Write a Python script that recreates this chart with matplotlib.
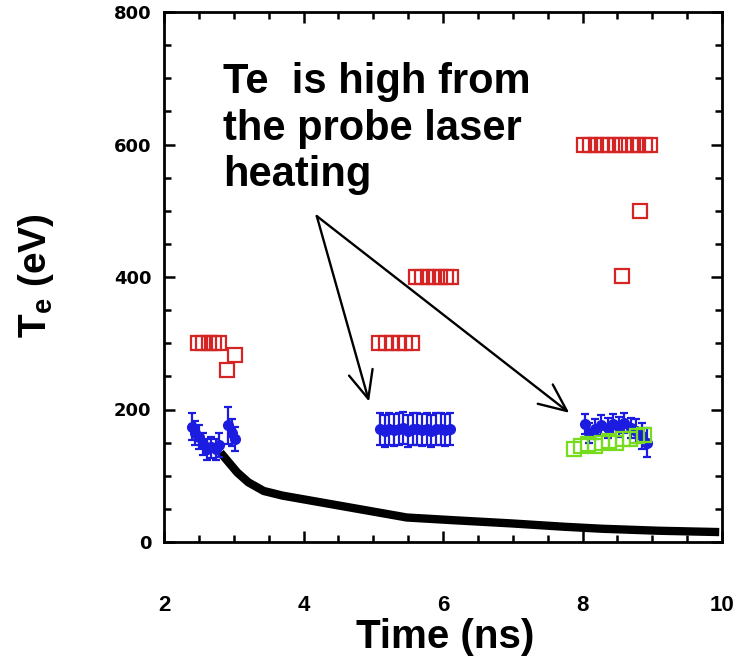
import numpy as np
import matplotlib
matplotlib.use("Agg")
import matplotlib.pyplot as plt
from matplotlib.ticker import MultipleLocator

plt.rcParams['font.family'] = ['Liberation Sans', 'DejaVu Sans']
plt.rcParams['mathtext.fontset'] = 'custom'
plt.rcParams['mathtext.rm'] = 'Liberation Sans:bold'
plt.rcParams['mathtext.bf'] = 'Liberation Sans:bold'

#red open squares (Te from probe heating)
red_t = [2.49, 2.56, 2.64, 2.72, 2.79, 2.90, 3.02,
         5.08, 5.18, 5.27, 5.37, 5.46, 5.56,
         5.62, 5.70, 5.79, 5.87, 5.96, 6.04, 6.12,
         8.02, 8.11, 8.20, 8.28, 8.37, 8.46, 8.54, 8.63, 8.72, 8.80, 8.89, 8.97,
         8.57, 8.83]
red_te = [300, 300, 300, 300, 300, 260, 282,
          300, 300, 300, 300, 300, 300,
          400, 400, 400, 400, 400, 400, 400,
          600, 600, 600, 600, 600, 600, 600, 600, 600, 600, 600, 600,
          402, 500]

#blue points with error bars
blue_t = [2.40, 2.45, 2.50, 2.56, 2.62, 2.68, 2.74, 2.79, 2.92, 2.97, 3.02,
          5.10, 5.17, 5.23, 5.30, 5.37, 5.43, 5.50, 5.57, 5.63, 5.70, 5.77, 5.83, 5.90, 5.97, 6.03, 6.10,
          8.03, 8.10, 8.18, 8.27, 8.36, 8.44, 8.52, 8.60, 8.69, 8.77, 8.85, 8.92]
blue_te = [174, 165, 158, 148, 140, 143, 140, 146, 176, 165, 155,
           170, 168, 171, 169, 170, 172, 168, 170, 171, 169, 170, 168, 171, 170, 169, 170,
           178, 165, 170, 176, 172, 178, 174, 180, 172, 168, 160, 150]
blue_err = [20, 18, 18, 16, 16, 16, 16, 18, 28, 20, 18,
            24, 24, 24, 24, 24, 24, 24, 24, 24, 24, 24, 24, 24, 24, 24, 24,
            15, 15, 15, 15, 15, 15, 15, 15, 15, 18, 20, 22]

#green open squares
green_t = [7.88, 7.98, 8.08, 8.18, 8.28, 8.38, 8.48, 8.58, 8.68, 8.78, 8.88]
green_te = [140, 145, 148, 145, 150, 152, 150, 155, 156, 160, 162]

#black decay curve
curve_t = [2.81, 3.05, 3.21, 3.43, 3.70, 3.97, 4.51, 5.05, 5.48, 6.13, 6.99, 7.74, 8.28, 9.09, 9.96]
curve_te = [135, 105, 90, 77, 70, 65, 55, 45, 37, 33, 28, 23, 20, 17, 15]

fig = plt.figure(figsize=(7.43, 6.63), dpi=100)
ax = fig.add_axes([164/743, 121/663, 558/743, 530/663])

ax.plot(curve_t, curve_te, color='black', lw=6, solid_capstyle='butt', zorder=2)
ax.errorbar(blue_t, blue_te, yerr=blue_err, fmt='o', color='#1c1ce0', ms=7,
            elinewidth=1.6, capsize=3, capthick=1.6, zorder=3)
ax.plot(green_t, green_te, 's', mfc='none', mec='#78dc1e', ms=10, mew=1.6, zorder=4)
ax.plot(red_t, red_te, 's', mfc='none', mec='#d42424', ms=9.5, mew=1.6, zorder=4)

ax.text(2.85, 725, "Te  is high from\nthe probe laser\nheating", fontsize=30,
        fontweight='bold', ha='left', va='top', linespacing=1.22)

#arrows from the text
origin = (4.19, 492)
ax.annotate('', xy=(4.94, 212), xytext=origin,
            arrowprops=dict(arrowstyle='->,head_length=0.9,head_width=0.4', lw=1.7,
                            color='black', mutation_scale=22, shrinkA=0, shrinkB=0))
ax.annotate('', xy=(7.81, 195), xytext=origin,
            arrowprops=dict(arrowstyle='->,head_length=0.9,head_width=0.4', lw=1.7,
                            color='black', mutation_scale=22, shrinkA=0, shrinkB=0))

ax.set_xlim(2, 10)
ax.set_ylim(0, 800)
ax.xaxis.set_major_locator(MultipleLocator(2))
ax.xaxis.set_minor_locator(MultipleLocator(0.5))
ax.yaxis.set_major_locator(MultipleLocator(200))
ax.yaxis.set_minor_locator(MultipleLocator(50))
ax.tick_params(which='both', direction='in', top=True, right=True, width=1.8, color='black')
ax.tick_params(which='major', length=8)
ax.tick_params(which='minor', length=5)
ax.tick_params(axis='x', which='major', pad=38, labelsize=16)
ax.tick_params(axis='y', which='major', pad=9, labelsize=13)
for lab in ax.get_xticklabels():
    lab.set_family('Liberation Sans')
    lab.set_fontweight('bold')
for lab in ax.get_yticklabels():
    lab.set_family('DejaVu Sans')
    lab.set_fontweight('bold')
for sp in ax.spines.values():
    sp.set_linewidth(2)

ax.set_xlabel('Time (ns)', fontsize=29, fontweight='bold', va='center')
ax.xaxis.set_label_coords((445-164)/558, (542-637)/530)
ax.set_ylabel(r'T$_\mathrm{e}$ (eV)', fontsize=28, fontweight='bold', va='center')
ax.yaxis.set_label_coords((36-164)/558, (542-276)/530)

plt.savefig('out.png', dpi=100)
